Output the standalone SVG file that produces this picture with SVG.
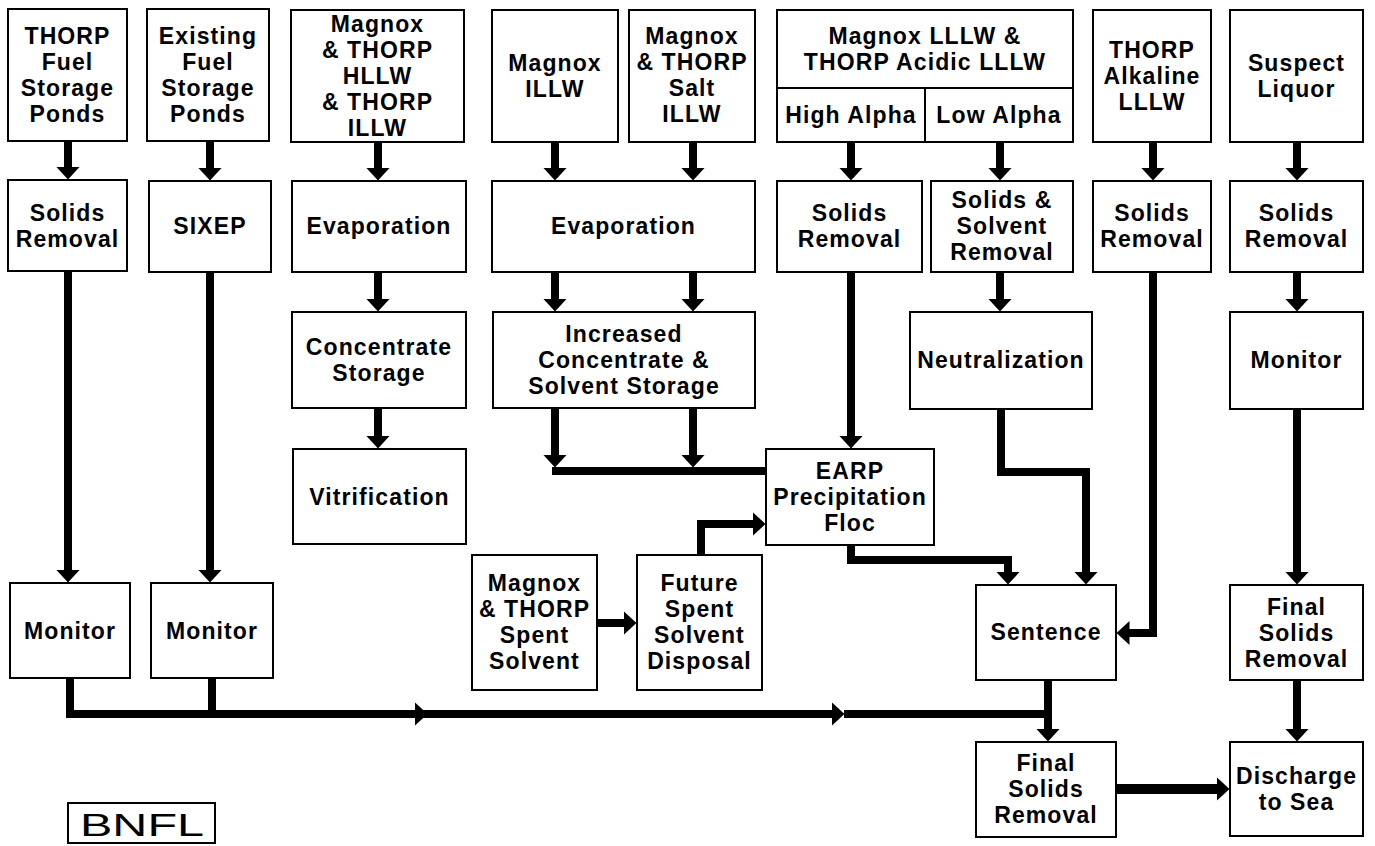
<svg xmlns="http://www.w3.org/2000/svg" width="1375" height="846" viewBox="0 0 1375 846">
<style>
.b{fill:#fff;stroke:#000;stroke-width:2}
.t{font-family:"Liberation Sans",Arial,sans-serif;font-weight:bold;font-size:23px;letter-spacing:1.1px;text-anchor:middle;fill:#000}
.c{fill:none;stroke:#000;stroke-width:8;stroke-linejoin:miter}
</style>
<defs>
<marker id="ah" markerUnits="userSpaceOnUse" markerWidth="14" markerHeight="24" refX="0.5" refY="12" orient="auto">
<path d="M0,0 L13,12 L0,24 Z" fill="#000"/>
</marker>
</defs>
<rect width="1375" height="846" fill="#fff"/>

<g id="connectors">
<path class="c" marker-end="url(#ah)" d="M68,141 V167"/>
<path class="c" marker-end="url(#ah)" d="M210,141 V168"/>
<path class="c" marker-end="url(#ah)" d="M378,142 V168"/>
<path class="c" marker-end="url(#ah)" d="M555,142 V168"/>
<path class="c" marker-end="url(#ah)" d="M693,142 V168"/>
<path class="c" marker-end="url(#ah)" d="M851,142 V168"/>
<path class="c" marker-end="url(#ah)" d="M1000,142 V168"/>
<path class="c" marker-end="url(#ah)" d="M1153,142 V168"/>
<path class="c" marker-end="url(#ah)" d="M1297,142 V168"/>
<path class="c" marker-end="url(#ah)" d="M68,271 V570"/>
<path class="c" marker-end="url(#ah)" d="M210,272 V570"/>
<path class="c" marker-end="url(#ah)" d="M378,272 V299"/>
<path class="c" marker-end="url(#ah)" d="M555,272 V299"/>
<path class="c" marker-end="url(#ah)" d="M693,272 V299"/>
<path class="c" marker-end="url(#ah)" d="M851,272 V436"/>
<path class="c" marker-end="url(#ah)" d="M1000,272 V299"/>
<path class="c" marker-end="url(#ah)" d="M1153,272 V633 H1129"/>
<path class="c" marker-end="url(#ah)" d="M1297,272 V299"/>
<path class="c" marker-end="url(#ah)" d="M1297,409 V572"/>
<path class="c" marker-end="url(#ah)" d="M1297,680 V729"/>
<path class="c" marker-end="url(#ah)" d="M378,408 V436"/>
<path class="c" marker-end="url(#ah)" d="M555,408 V455"/>
<path class="c" marker-end="url(#ah)" d="M693,408 V455"/>
<path class="c" d="M552,471 H766"/>
<path class="c" marker-end="url(#ah)" d="M701,555 V524 H753"/>
<path class="c" marker-end="url(#ah)" d="M597,623 H624"/>
<path class="c" marker-end="url(#ah)" d="M851,545 V560 H1008 V572"/>
<path class="c" marker-end="url(#ah)" d="M1001,409 V472 H1086 V572"/>
<path class="c" d="M70,678 V714 H428"/>
<path class="c" d="M212,678 V714"/>
<path class="c" marker-end="url(#ah)" d="M66,714 H415"/>
<path class="c" marker-end="url(#ah)" d="M427,714 H832"/>
<path class="c" d="M844,714 H1048"/>
<path class="c" marker-end="url(#ah)" d="M1048,680 V729"/>
<path class="c" style="stroke-width:10" marker-end="url(#ah)" d="M1116,789 H1217"/>
</g>

<g id="thorp-ponds"><rect class="b" x="8" y="9" width="119" height="132"/>
<text class="t"><tspan x="67.5" y="44">THORP</tspan><tspan x="67.5" y="70">Fuel</tspan><tspan x="67.5" y="96">Storage</tspan><tspan x="67.5" y="122">Ponds</tspan></text></g>
<g id="existing-ponds"><rect class="b" x="147" y="9" width="122" height="132"/>
<text class="t"><tspan x="208" y="44">Existing</tspan><tspan x="208" y="70">Fuel</tspan><tspan x="208" y="96">Storage</tspan><tspan x="208" y="122">Ponds</tspan></text></g>
<g id="magnox-thorp-hllw"><rect class="b" x="291" y="10" width="173" height="132"/>
<text class="t"><tspan x="377.5" y="32">Magnox</tspan><tspan x="377.5" y="58">&amp; THORP</tspan><tspan x="377.5" y="84">HLLW</tspan><tspan x="377.5" y="110">&amp; THORP</tspan><tspan x="377.5" y="136">ILLW</tspan></text></g>
<g id="magnox-illw"><rect class="b" x="492" y="10" width="126" height="132"/>
<text class="t"><tspan x="555" y="71">Magnox</tspan><tspan x="555" y="97">ILLW</tspan></text></g>
<g id="salt-illw"><rect class="b" x="629" y="10" width="126" height="132"/>
<text class="t"><tspan x="692" y="44">Magnox</tspan><tspan x="692" y="70">&amp; THORP</tspan><tspan x="692" y="96">Salt</tspan><tspan x="692" y="122">ILLW</tspan></text></g>
<g id="lllw"><rect class="b" x="777" y="10" width="296" height="132"/>
<path d="M777,88 H1073 M925,88 V142" stroke="#000" stroke-width="2" fill="none"/>
<text class="t"><tspan x="925" y="44">Magnox LLLW &amp;</tspan><tspan x="925" y="70">THORP Acidic LLLW</tspan></text>
<text class="t" x="851" y="123">High Alpha</text>
<text class="t" x="999" y="123">Low Alpha</text></g>
<g id="alkaline-lllw"><rect class="b" x="1093" y="10" width="118" height="132"/>
<text class="t"><tspan x="1152" y="58">THORP</tspan><tspan x="1152" y="84">Alkaline</tspan><tspan x="1152" y="110">LLLW</tspan></text></g>
<g id="suspect-liquor"><rect class="b" x="1230" y="10" width="133" height="132"/>
<text class="t"><tspan x="1296.5" y="71">Suspect</tspan><tspan x="1296.5" y="97">Liquor</tspan></text></g>

<g id="solids-removal-1"><rect class="b" x="8" y="180" width="119" height="91"/>
<text class="t"><tspan x="67.5" y="221">Solids</tspan><tspan x="67.5" y="247">Removal</tspan></text></g>
<g id="sixep"><rect class="b" x="149" y="181" width="122" height="91"/>
<text class="t" x="210" y="234">SIXEP</text></g>
<g id="evaporation-1"><rect class="b" x="292" y="181" width="174" height="91"/>
<text class="t" x="379" y="234">Evaporation</text></g>
<g id="evaporation-2"><rect class="b" x="492" y="181" width="263" height="91"/>
<text class="t" x="623.5" y="234">Evaporation</text></g>
<g id="solids-removal-2"><rect class="b" x="777" y="181" width="145" height="91"/>
<text class="t"><tspan x="849.5" y="221">Solids</tspan><tspan x="849.5" y="247">Removal</tspan></text></g>
<g id="solids-solvent-removal"><rect class="b" x="931" y="181" width="142" height="91"/>
<text class="t"><tspan x="1002" y="208">Solids &amp;</tspan><tspan x="1002" y="234">Solvent</tspan><tspan x="1002" y="260">Removal</tspan></text></g>
<g id="solids-removal-3"><rect class="b" x="1093" y="181" width="118" height="91"/>
<text class="t"><tspan x="1152" y="221">Solids</tspan><tspan x="1152" y="247">Removal</tspan></text></g>
<g id="solids-removal-4"><rect class="b" x="1230" y="181" width="133" height="91"/>
<text class="t"><tspan x="1296.5" y="221">Solids</tspan><tspan x="1296.5" y="247">Removal</tspan></text></g>

<g id="concentrate-storage"><rect class="b" x="292" y="312" width="174" height="96"/>
<text class="t"><tspan x="379" y="355">Concentrate</tspan><tspan x="379" y="381">Storage</tspan></text></g>
<g id="increased-storage"><rect class="b" x="493" y="312" width="262" height="96"/>
<text class="t"><tspan x="624" y="342">Increased</tspan><tspan x="624" y="368">Concentrate &amp;</tspan><tspan x="624" y="394">Solvent Storage</tspan></text></g>
<g id="neutralization"><rect class="b" x="910" y="312" width="182" height="97"/>
<text class="t" x="1001" y="368">Neutralization</text></g>
<g id="monitor-3"><rect class="b" x="1230" y="312" width="133" height="97"/>
<text class="t" x="1296.5" y="368">Monitor</text></g>

<g id="vitrification"><rect class="b" x="293" y="449" width="173" height="95"/>
<text class="t" x="379.5" y="505">Vitrification</text></g>
<g id="earp"><rect class="b" x="766" y="449" width="168" height="96"/>
<text class="t"><tspan x="850" y="479">EARP</tspan><tspan x="850" y="505">Precipitation</tspan><tspan x="850" y="531">Floc</tspan></text></g>
<g id="spent-solvent"><rect class="b" x="472" y="555" width="125" height="135"/>
<text class="t"><tspan x="534.5" y="591">Magnox</tspan><tspan x="534.5" y="617">&amp; THORP</tspan><tspan x="534.5" y="643">Spent</tspan><tspan x="534.5" y="669">Solvent</tspan></text></g>
<g id="future-disposal"><rect class="b" x="637" y="555" width="125" height="135"/>
<text class="t"><tspan x="699.5" y="591">Future</tspan><tspan x="699.5" y="617">Spent</tspan><tspan x="699.5" y="643">Solvent</tspan><tspan x="699.5" y="669">Disposal</tspan></text></g>
<g id="monitor-1"><rect class="b" x="10" y="583" width="120" height="95"/>
<text class="t" x="70" y="639">Monitor</text></g>
<g id="monitor-2"><rect class="b" x="151" y="583" width="122" height="95"/>
<text class="t" x="212" y="639">Monitor</text></g>
<g id="sentence"><rect class="b" x="976" y="585" width="140" height="95"/>
<text class="t" x="1046" y="640">Sentence</text></g>
<g id="final-solids-removal-2"><rect class="b" x="1230" y="585" width="133" height="95"/>
<text class="t"><tspan x="1296.5" y="615">Final</tspan><tspan x="1296.5" y="641">Solids</tspan><tspan x="1296.5" y="667">Removal</tspan></text></g>

<g id="final-solids-removal-1"><rect class="b" x="976" y="742" width="140" height="95"/>
<text class="t"><tspan x="1046" y="771">Final</tspan><tspan x="1046" y="797">Solids</tspan><tspan x="1046" y="823">Removal</tspan></text></g>
<g id="discharge"><rect class="b" x="1230" y="742" width="133" height="94"/>
<text class="t"><tspan x="1296.5" y="784">Discharge</tspan><tspan x="1296.5" y="810">to Sea</tspan></text></g>

<g id="bnfl-logo"><rect class="b" x="68" y="803" width="147" height="40"/>
<text x="80" y="836" font-family="'Liberation Sans',Arial,sans-serif" font-size="32" textLength="124" lengthAdjust="spacingAndGlyphs" fill="#000">BNFL</text></g>
</svg>
